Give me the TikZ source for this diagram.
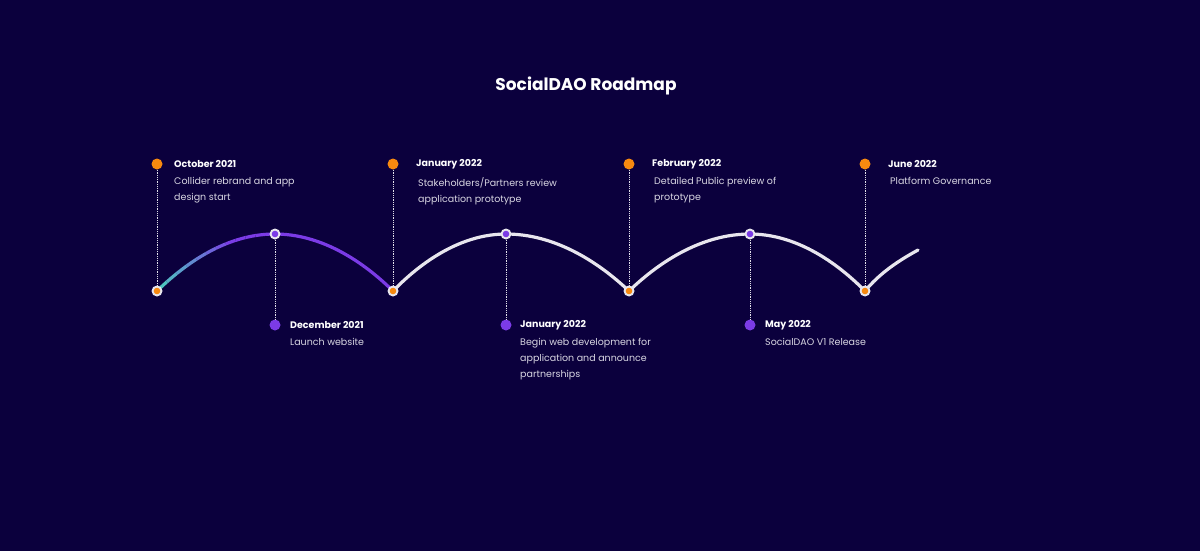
\documentclass[tikz,border=0pt]{standalone}
\usepackage{fontspec}
\setmainfont{Poppins}
\begin{document}
\begin{tikzpicture}[x=1pt,y=-1pt,
  lbl/.style={anchor=north west,font=\fontsize{9.5}{16}\selectfont,text=txt,inner sep=0pt,align=left},
  ttl/.style={anchor=west,font=\bfseries\fontsize{9.5}{12}\selectfont,text=white,inner sep=0pt},
  dotl/.style={draw=txt!80,densely dotted,line width=0.8pt},
  curve/.style={line width=3.2pt,line cap=round},
  topdot/.style={circle,fill=org,minimum size=11pt,inner sep=0pt},
  botdot/.style={circle,fill=pur,minimum size=11pt,inner sep=0pt}]
\definecolor{bg}{HTML}{0B003D}
\definecolor{org}{HTML}{F7890F}
\definecolor{pur}{HTML}{7B3BE6}
\definecolor{wcur}{HTML}{E8E6EE}
\definecolor{txt}{HTML}{D8D6E2}
\definecolor{teal}{HTML}{4FC3C0}
\fill[bg] (0,0) rectangle (1200,551);
\useasboundingbox (0,0) rectangle (1200,551);
\node[font=\bfseries\fontsize{17}{20}\selectfont,text=white] (title) at (586,86) {SocialDAO Roadmap};
% curves
\draw[curve,wcur] (393,291) parabola bend (506,234) (629,291);
\draw[curve,wcur] (629,291) parabola bend (750,234) (865,291);
\draw[curve,wcur] (865,291) .. controls (880,273) and (898,261) .. (918,250);
\draw[curve,pur] (275,234) parabola bend (275,234) (393,291);
\foreach \i in {0,...,11}{
  \pgfmathsetmacro{\xa}{157+\i*118/12}
  \pgfmathsetmacro{\xb}{157+(\i+1)*118/12}
  \pgfmathsetmacro{\m}{max(0,100-\i*14)}
  \colorlet{segc}{teal!\m!pur}
  \draw[line width=3.2pt,segc,domain=\xa:\xb,samples=4] plot (\x,{234+57*((\x-275)/118)^2});
}
% top dots and text
\node[topdot] (t1) at (157,164) {};
\node[topdot] (t2) at (393,164) {};
\node[topdot] (t3) at (629,164) {};
\node[topdot] (t4) at (865,164) {};
\node[botdot] (b1) at (275,325) {};
\node[botdot] (b2) at (506,325) {};
\node[botdot] (b3) at (750,325) {};
% valley / peak nodes
\foreach \n/\x in {v1/157,v2/393,v3/629,v4/865}{
  \node[circle,fill=wcur,minimum size=11pt,inner sep=0pt] (\n) at (\x,291) {};
  \fill[org] (\n) circle (3.3pt);
}
\foreach \n/\x in {p1/275,p2/506,p3/750}{
  \node[circle,fill=wcur,minimum size=11pt,inner sep=0pt] (\n) at (\x,234) {};
  \fill[pur] (\n) circle (3.3pt);
}
\draw[dotl] (t1) -- (v1); \draw[dotl] (t2) -- (v2);
\draw[dotl] (t3) -- (v3); \draw[dotl] (t4) -- (v4);
\draw[dotl] (p1) -- (b1); \draw[dotl] (p2) -- (b2); \draw[dotl] (p3) -- (b3);
% labels
\node[ttl] (d1) at (174,164) {October 2021};
\node[lbl] (x1) at (174,177) {Collider rebrand and app\\design start};
\node[ttl] (d2) at (416,164) {January 2022};
\node[lbl] (x2) at (418,177) {Stakeholders/Partners review\\application prototype};
\node[ttl] (d3) at (652,164) {February 2022};
\node[lbl] (x3) at (654,177) {Detailed Public preview of\\prototype};
\node[ttl] (d4) at (888,164) {June 2022};
\node[lbl] (x4) at (890,177) {Platform Governance};
\node[ttl] (e1) at (290,325) {December 2021};
\node[lbl] (y1) at (290,338) {Launch website};
\node[ttl] (e2) at (520,325) {January 2022};
\node[lbl] (y2) at (520,338) {Begin web development for\\application and announce\\partnerships};
\node[ttl] (e3) at (765,325) {May 2022};
\node[lbl] (y3) at (765,338) {SocialDAO V1 Release};
\end{tikzpicture}
\end{document}
